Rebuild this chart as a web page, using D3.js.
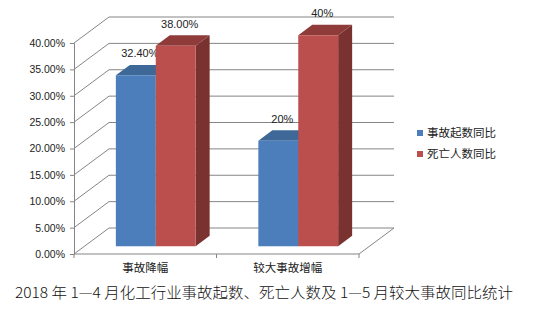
<!DOCTYPE html>
<html>
<head>
<meta charset="utf-8">
<script src="https://cdn.jsdelivr.net/npm/d3@7"></script>
<style>
  body { margin: 0; background: #fff; }
  svg { display: block; }
</style>
</head>
<body>
<div id="chart"></div>
<script>
// data
var categories = ["事故降幅", "较大事故增幅"];
var seriesNames = ["事故起数同比", "死亡人数同比"];
var accidentValues = [0.324, 0.20];
var deathValues = [0.38, 0.40];
var accidentLabels = ["32.40%", "20%"];
var deathLabels = ["38.00%", "40%"];
var yTicks = [0, 0.05, 0.10, 0.15, 0.20, 0.25, 0.30, 0.35, 0.40];
var title = "2018 年 1—4 月化工行业事故起数、死亡人数及 1—5 月较大事故同比统计";

var colors = {
  front: ["#4b7ebb", "#bb4f4e"],
  top:   ["#3e6898", "#8e3b3a"],
  side:  ["#355a85", "#7a3231"]
};

var width = 543, height = 311;
var depth = {dx: 35, dy: -26};     // full depth of the plot box
var barZ0 = 0.3, barDz = 0.4;       // where the columns sit inside that depth

var svg = d3.select("#chart").append("svg")
    .attr("width", width)
    .attr("height", height);

var x0 = d3.scaleBand()
    .domain(categories)
    .range([74, 359]);

var x1 = d3.scaleBand()
    .domain(seriesNames)
    .range([x0.bandwidth() * 0.22, x0.bandwidth() * 0.78]);

var y = d3.scaleLinear()
    .domain([0, 0.4])
    .range([254, 43]);

// project a front-plane point to depth z (0 = front, 1 = back)
function proj(px, py, z) {
  return [px + depth.dx * z, py + depth.dy * z];
}

var gridColor = "#858585";

// back wall grid lines + side wall diagonals
var grid = svg.append("g").attr("class", "grid");
yTicks.forEach(function(t) {
  var a = proj(x0.range()[0], y(t), 0),
      b = proj(x0.range()[0], y(t), 1),
      c = proj(x0.range()[1], y(t), 1);
  grid.append("path")
      .attr("d", d3.line()([a, b, c]))
      .attr("fill", "none")
      .attr("stroke", gridColor)
      .attr("stroke-width", 1);
});

// floor
var f0 = proj(x0.range()[0], y(0), 0),
    f1 = proj(x0.range()[1], y(0), 0),
    f2 = proj(x0.range()[1], y(0), 1);
svg.append("path")
    .attr("d", d3.line()([f0, f1, f2]))
    .attr("fill", "none")
    .attr("stroke", gridColor);

// y axis on the front plane
var yAxis = svg.append("g")
    .attr("transform", "translate(" + x0.range()[0] + ",0)")
    .call(d3.axisLeft(y).tickValues(yTicks).tickFormat(d3.format(".2%")).tickSize(4).tickPadding(5));
yAxis.select(".domain").attr("stroke", gridColor);
yAxis.selectAll(".tick line").attr("stroke", gridColor);
yAxis.selectAll("text")
    .style("font", "10.5px 'Liberation Sans', Arial, sans-serif")
    .attr("fill", "#222");

// x axis ticks on the floor edge
var xTicks = [x0.range()[0]].concat(categories.map(function(c) { return x0(c) + x0.bandwidth(); }));
svg.append("g").selectAll("line")
    .data(xTicks)
  .enter().append("line")
    .attr("x1", function(d) { return d; })
    .attr("x2", function(d) { return d; })
    .attr("y1", y(0))
    .attr("y2", y(0) + 4)
    .attr("stroke", gridColor);

svg.append("g").selectAll("text")
    .data(categories)
  .enter().append("text")
    .attr("x", function(d) { return x0(d) + x0.bandwidth() / 2; })
    .attr("y", y(0) + 18)
    .attr("text-anchor", "middle")
    .style("font", "11.5px 'Noto Sans CJK SC', sans-serif")
    .attr("fill", "#222")
    .text(function(d) { return d; });

// columns
var bars = [];
categories.forEach(function(c, i) {
  bars.push({cat: c, s: 0, v: accidentValues[i], label: accidentLabels[i]});
  bars.push({cat: c, s: 1, v: deathValues[i], label: deathLabels[i]});
});

var barG = svg.append("g").attr("class", "bars");
bars.forEach(function(b) {
  var xl = x0(b.cat) + x1(seriesNames[b.s]),
      xr = xl + x1.bandwidth(),
      yt = y(b.v), yb = y(0);
  var fl_t = proj(xl, yt, barZ0), fr_t = proj(xr, yt, barZ0),
      fl_b = proj(xl, yb, barZ0), fr_b = proj(xr, yb, barZ0),
      bl_t = proj(xl, yt, barZ0 + barDz), br_t = proj(xr, yt, barZ0 + barDz),
      br_b = proj(xr, yb, barZ0 + barDz);
  var line = d3.line();
  barG.append("path")
      .attr("d", line([fr_b, fr_t, br_t, br_b]) + "Z")
      .attr("fill", colors.side[b.s]);
  barG.append("path")
      .attr("d", line([fl_t, fr_t, br_t, bl_t]) + "Z")
      .attr("fill", colors.top[b.s]);
  barG.append("path")
      .attr("d", line([fl_t, fr_t, fr_b, fl_b]) + "Z")
      .attr("fill", colors.front[b.s]);
  barG.append("text")
      .attr("x", (fl_t[0] + fr_t[0]) / 2 + 4)
      .attr("y", fl_t[1] - 18)
      .attr("text-anchor", "middle")
      .style("font", "11px 'Liberation Sans', Arial, sans-serif")
      .attr("fill", "#222")
      .text(b.label);
});

// legend
var legend = svg.append("g").selectAll("g")
    .data(seriesNames)
  .enter().append("g")
    .attr("transform", function(d, i) { return "translate(417," + (130 + i * 21) + ")"; });

legend.append("rect")
    .attr("width", 6)
    .attr("height", 6)
    .attr("fill", function(d, i) { return colors.front[i]; });

legend.append("text")
    .attr("x", 10)
    .attr("y", 7)
    .style("font", "11.5px 'Noto Sans CJK SC', sans-serif")
    .attr("fill", "#222")
    .text(function(d) { return d; });

// caption under the chart
svg.append("text")
    .attr("x", 15)
    .attr("y", 298)
    .attr("textLength", 498)
    .attr("lengthAdjust", "spacingAndGlyphs")
    .style("font", "300 14.5px 'Noto Sans CJK SC', sans-serif")
    .attr("fill", "#111")
    .text(title);
</script>
</body>
</html>
